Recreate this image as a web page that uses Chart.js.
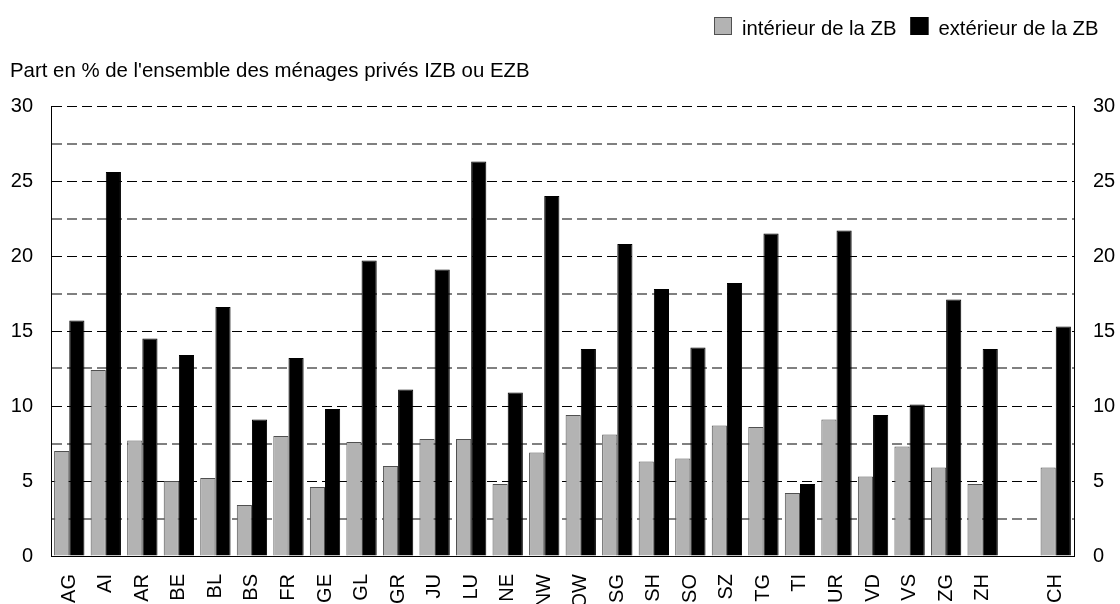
<!DOCTYPE html>
<html><head><meta charset="utf-8">
<script src="https://cdn.jsdelivr.net/npm/chart.js@4.4.1/dist/chart.umd.min.js"></script>
<style>html,body{margin:0;padding:0;background:#fff;overflow:hidden}#wrap{position:relative;width:1120px;height:604px}</style>
</head><body><div id="wrap"><canvas id="c" width="1120" height="604"></canvas></div>
<script>
const categories = ['AG','AI','AR','BE','BL','BS','FR','GE','GL','GR','JU','LU','NE','NW','OW','SG','SH','SO','SZ','TG','TI','UR','VD','VS','ZG','ZH','','CH'];
const interiorValues = [7.0,12.4,7.7,5.0,5.2,3.4,8.0,4.6,7.6,6.0,7.8,7.8,4.8,6.9,9.4,8.1,6.3,6.5,8.7,8.6,4.2,9.1,5.3,7.3,5.9,4.8,null,5.9];
const exteriorValues = [15.7,25.6,14.5,13.4,16.6,9.1,13.2,9.8,19.7,11.1,19.1,26.3,10.9,24.0,13.8,20.8,17.8,13.9,18.2,21.5,4.8,21.7,9.4,10.1,17.1,13.8,null,15.3];
const seriesLabels = ['intérieur de la ZB','extérieur de la ZB'];
const axisTitle = "Part en % de l'ensemble des ménages privés IZB ou EZB";
const yMin = 0, yMax = 30, yStep = 2.5, yLabelStep = 5;

const FONT = '"Liberation Sans", Arial, Helvetica, sans-serif';

const headerPlugin = {
  id: 'header',
  afterDraw(chart) {
    const ctx = chart.ctx;
    ctx.save();
    ctx.fillStyle = '#000';
    ctx.textBaseline = 'alphabetic';
    ctx.textAlign = 'left';
    ctx.font = '20.4px ' + FONT;
    ctx.fillText(axisTitle, 10, 77);
    ctx.font = '20.3px ' + FONT;
    const ds = chart.data.datasets;
    const box = 18, gap = 10, spacing = 14;
    const widths = ds.map(d => ctx.measureText(d.label).width);
    let total = 0;
    ds.forEach((d, i) => { total += box + gap + widths[i] + (i ? spacing : 0); });
    let x = Math.round(1099 - total);
    ds.forEach((d, i) => {
      ctx.fillStyle = d.backgroundColor;
      ctx.fillRect(x, 17, box, box);
      ctx.strokeStyle = d.borderColor;
      ctx.lineWidth = 1;
      ctx.strokeRect(x + 0.5, 17.5, box - 1, box - 1);
      x += box + gap;
      ctx.fillStyle = '#000';
      ctx.fillText(d.label, x, 34.5);
      x += widths[i] + spacing;
    });
    ctx.restore();
  }
};

new Chart(document.getElementById('c'), {
  type: 'bar',
  data: {
    labels: categories,
    datasets: [
      { label: seriesLabels[0], data: interiorValues, backgroundColor: '#b3b3b3', borderColor: '#505050', borderWidth: 1, yAxisID: 'y' },
      { label: seriesLabels[1], data: exteriorValues, backgroundColor: '#000000', borderColor: '#000000', borderWidth: 1, yAxisID: 'y' }
    ]
  },
  options: {
    responsive: false,
    animation: false,
    devicePixelRatio: 1,
    layout: { padding: { top: 106, left: 0, right: 0, bottom: 0 } },
    datasets: { bar: { categoryPercentage: 0.83, barPercentage: 1.0 } },
    plugins: { legend: { display: false }, title: { display: false }, tooltip: { enabled: false } },
    scales: {
      x: {
        grid: { display: false, drawTicks: false },
        border: { display: true, color: '#000', width: 1 },
        ticks: { color: '#000', font: { family: FONT, size: 20 }, minRotation: 90, maxRotation: 90, padding: 18, autoSkip: false },
        afterFit(s) { s.height = 48; }
      },
      y: {
        position: 'left',
        min: yMin, max: yMax,
        grid: {
          drawTicks: false,
          color: c => (c.tick && c.tick.value % yLabelStep === 0) ? '#000000' : '#808080',
          lineWidth: c => (c.tick && c.tick.value % yLabelStep === 0) ? 1 : 2
        },
        border: { display: true, color: '#000', width: 1, dash: [10, 5] },
        ticks: {
          stepSize: yStep, color: '#000', padding: 18,
          font: { family: FONT, size: 20 },
          callback: v => (v % yLabelStep === 0) ? String(v) : ''
        },
        afterFit(s) { s.width = 51; }
      },
      y2: {
        position: 'right',
        min: yMin, max: yMax,
        grid: { display: false, drawTicks: false },
        border: { display: true, color: '#000', width: 1 },
        ticks: {
          stepSize: yStep, color: '#000', padding: 19,
          font: { family: FONT, size: 20 },
          callback: v => (v % yLabelStep === 0) ? String(v) : ''
        },
        afterFit(s) { s.width = 46; }
      }
    }
  },
  plugins: [headerPlugin]
});
</script>
</body></html>
